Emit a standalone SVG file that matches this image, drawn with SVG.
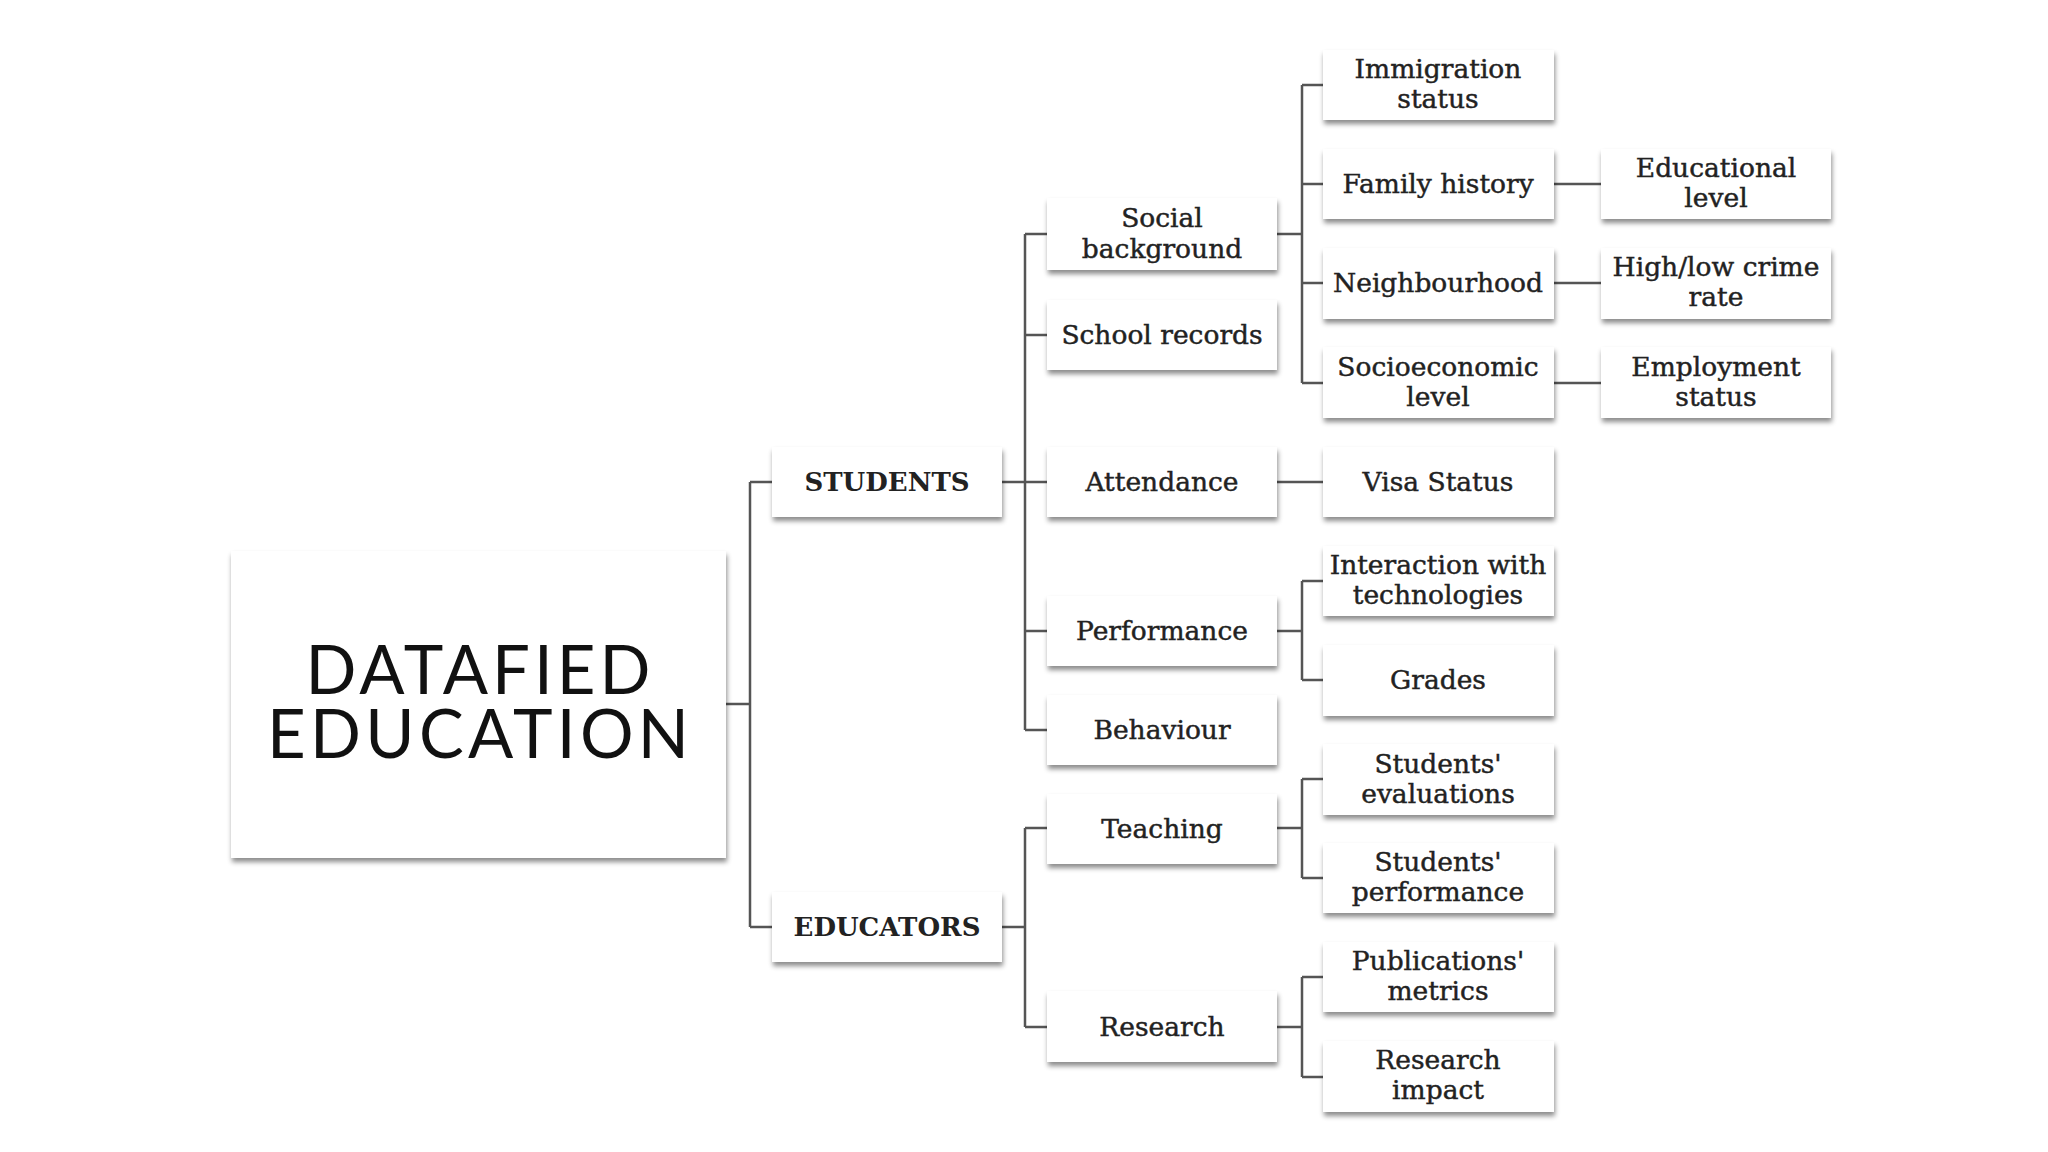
<svg xmlns="http://www.w3.org/2000/svg" width="2048" height="1152" viewBox="0 0 2048 1152">
<defs>
<filter id="sh" x="-10%" y="-20%" width="125%" height="150%">
<feDropShadow dx="1" dy="4" stdDeviation="2.5" flood-color="#000" flood-opacity="0.45"/>
</filter>
<style>
.box{fill:#fff;filter:url(#sh)}
.t{font-family:"DejaVu Serif","Liberation Serif",serif;font-size:26.5px;fill:#222;stroke:#222;stroke-width:0.45;text-anchor:middle}
.b{font-weight:bold;font-size:26px;stroke-width:0}
.title{font-family:Lato,"Open Sans",sans-serif;font-size:67px;fill:#111;text-anchor:middle}
.c{fill:none;stroke:#555;stroke-width:2.5}
</style>
</defs>
<rect width="2048" height="1152" fill="#fff"/>
<g id="connectors">
<path class="c" d="M726 704H750M750 482V927M750 482H772M750 927H772"/>
<path class="c" d="M1002 482H1025M1025 234V730M1025 234H1047M1025 335H1047M1025 482H1047M1025 631H1047M1025 730H1047"/>
<path class="c" d="M1002 927H1025M1025 828V1027M1025 828H1047M1025 1027H1047"/>
<path class="c" d="M1277 234H1302M1302 85V383M1302 85H1323M1302 184H1323M1302 283H1323M1302 383H1323"/>
<path class="c" d="M1277 482H1323"/>
<path class="c" d="M1277 631H1302M1302 581V680M1302 581H1323M1302 680H1323"/>
<path class="c" d="M1277 828H1302M1302 779V878M1302 779H1323M1302 878H1323"/>
<path class="c" d="M1277 1027H1302M1302 977V1077M1302 977H1323M1302 1077H1323"/>
<path class="c" d="M1554 184H1601M1554 283H1601M1554 383H1601"/>
</g>
<g id="datafied-education"><rect class="box" x="231" y="551" width="495" height="307"/><text class="title" x="478" y="694" textLength="345" lengthAdjust="spacing">DATAFIED</text><text class="title" x="478" y="758" textLength="422" lengthAdjust="spacing">EDUCATION</text></g>
<g id="students"><rect class="box" x="772" y="447" width="230" height="70"/><text class="t b" x="887" y="491">STUDENTS</text></g>
<g id="educators"><rect class="box" x="772" y="892" width="230" height="70"/><text class="t b" x="887" y="936">EDUCATORS</text></g>
<g id="social-background"><rect class="box" x="1047" y="198" width="230" height="72"/><text class="t" x="1162" y="227">Social</text><text class="t" x="1162" y="258">background</text></g>
<g id="school-records"><rect class="box" x="1047" y="300" width="230" height="70"/><text class="t" x="1162" y="344">School records</text></g>
<g id="attendance"><rect class="box" x="1047" y="447" width="230" height="70"/><text class="t" x="1162" y="491">Attendance</text></g>
<g id="performance"><rect class="box" x="1047" y="596" width="230" height="70"/><text class="t" x="1162" y="640">Performance</text></g>
<g id="behaviour"><rect class="box" x="1047" y="695" width="230" height="70"/><text class="t" x="1162" y="739">Behaviour</text></g>
<g id="teaching"><rect class="box" x="1047" y="794" width="230" height="70"/><text class="t" x="1162" y="838">Teaching</text></g>
<g id="research"><rect class="box" x="1047" y="991" width="230" height="71"/><text class="t" x="1162" y="1036">Research</text></g>
<g id="immigration-status"><rect class="box" x="1323" y="50" width="231" height="70"/><text class="t" x="1438" y="78">Immigration</text><text class="t" x="1438" y="108">status</text></g>
<g id="family-history"><rect class="box" x="1323" y="149" width="231" height="70"/><text class="t" x="1438" y="193">Family history</text></g>
<g id="neighbourhood"><rect class="box" x="1323" y="248" width="231" height="71"/><text class="t" x="1438" y="292">Neighbourhood</text></g>
<g id="socioeconomic-level"><rect class="box" x="1323" y="347" width="231" height="71"/><text class="t" x="1438" y="376">Socioeconomic</text><text class="t" x="1438" y="406">level</text></g>
<g id="visa-status"><rect class="box" x="1323" y="447" width="231" height="70"/><text class="t" x="1438" y="491">Visa Status</text></g>
<g id="interaction-with-technologies"><rect class="box" x="1323" y="546" width="231" height="70"/><text class="t" x="1438" y="574">Interaction with</text><text class="t" x="1438" y="604">technologies</text></g>
<g id="grades"><rect class="box" x="1323" y="645" width="231" height="71"/><text class="t" x="1438" y="689">Grades</text></g>
<g id="students-evaluations"><rect class="box" x="1323" y="744" width="231" height="71"/><text class="t" x="1438" y="773">Students'</text><text class="t" x="1438" y="803">evaluations</text></g>
<g id="students-performance"><rect class="box" x="1323" y="843" width="231" height="70"/><text class="t" x="1438" y="871">Students'</text><text class="t" x="1438" y="901">performance</text></g>
<g id="publications-metrics"><rect class="box" x="1323" y="942" width="231" height="70"/><text class="t" x="1438" y="970">Publications'</text><text class="t" x="1438" y="1000">metrics</text></g>
<g id="research-impact"><rect class="box" x="1323" y="1041" width="231" height="71"/><text class="t" x="1438" y="1069">Research</text><text class="t" x="1438" y="1099">impact</text></g>
<g id="educational-level"><rect class="box" x="1601" y="149" width="230" height="70"/><text class="t" x="1716" y="177">Educational</text><text class="t" x="1716" y="207">level</text></g>
<g id="high-low-crime-rate"><rect class="box" x="1601" y="248" width="230" height="71"/><text class="t" x="1716" y="276">High/low crime</text><text class="t" x="1716" y="306">rate</text></g>
<g id="employment-status"><rect class="box" x="1601" y="347" width="230" height="71"/><text class="t" x="1716" y="376">Employment</text><text class="t" x="1716" y="406">status</text></g>
</svg>
